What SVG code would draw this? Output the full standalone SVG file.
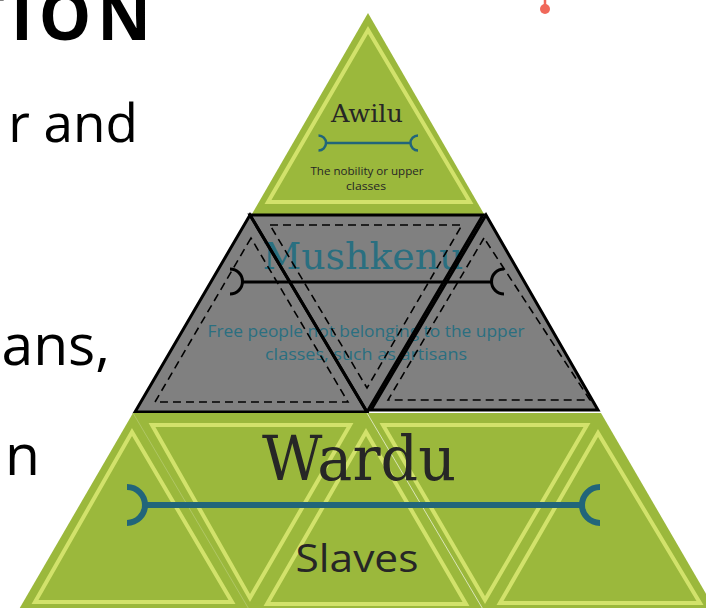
<svg xmlns="http://www.w3.org/2000/svg" width="706" height="608" viewBox="0 0 706 608">
<defs>
<style>
.bg{fill:#ffffff}
.side{font-family:"Open Sans","Noto Sans",sans-serif;fill:#000000}
.green{fill:#9bb83c}
.gin{fill:none;stroke:#d2e26b;stroke-width:4;stroke-linejoin:miter}
.gray{fill:#808080}
.gout{fill:none;stroke:#000000;stroke-width:3;stroke-linejoin:miter}
.dash{fill:none;stroke:#000000;stroke-width:1.6;stroke-dasharray:8 5}
.slab{font-family:"DejaVu Serif","Liberation Serif",serif;text-anchor:middle}
.sans{font-family:"Open Sans","Noto Sans",sans-serif;text-anchor:middle}
.dark{fill:#262626}
.teal{fill:#2a6f80}
.tline{fill:none;stroke:#21657a}
.bline{fill:none;stroke:#000000}
.seam{stroke:#ffffff;fill:none}
</style>
</defs>
<rect class="bg" x="0" y="0" width="706" height="608"/>

<g id="side-text">
<text class="side" x="157" y="40" font-size="66" font-weight="bold" text-anchor="end" letter-spacing="6">TION</text>
<text class="side" x="138" y="142" font-size="53" text-anchor="end">r and</text>
<text class="side" x="110" y="365" font-size="57" text-anchor="end">ans,</text>
<text class="side" x="40" y="475" font-size="57" text-anchor="end">n</text>
</g>

<g id="marker-dot">
<line x1="545" y1="0" x2="545" y2="8" stroke="#f0685a" stroke-width="2.5"/>
<circle cx="545" cy="9" r="5" fill="#f0685a"/>
</g>

<g id="awilu">
<path class="green" d="M368,13 L252,214 L484,214 Z"/>
<path class="gin" d="M368,30 L268,202 L470,202 Z"/>
<text class="slab dark" x="367" y="122" font-size="25" textLength="72" lengthAdjust="spacingAndGlyphs">Awilu</text>
<g class="tline" stroke-width="2.5">
<line x1="325" y1="143" x2="411" y2="143"/>
<path d="M318.5,135.5 A7.5,7.5 0 0 1 318.5,150.5"/>
<path d="M418,135.5 A7.5,7.5 0 0 0 418,150.5"/>
</g>
<text class="sans dark" x="367" y="175" font-size="11" textLength="113" lengthAdjust="spacingAndGlyphs">The nobility or upper</text>
<text class="sans dark" x="366" y="190" font-size="11" textLength="40" lengthAdjust="spacingAndGlyphs">classes</text>
</g>

<g id="mushkenu">
<path class="gray" d="M250,215 L135,412 L367,412 Z"/>
<path class="gray" d="M250,215 L483,215 L367,412 Z"/>
<path class="gray" d="M486,215 L371,410 L598,410 Z"/>
<text class="slab teal" x="363" y="269" font-size="38" textLength="201" lengthAdjust="spacingAndGlyphs">Mushkenu</text>
<text class="sans teal" x="366" y="337" font-size="17" textLength="317" lengthAdjust="spacingAndGlyphs">Free people not belonging to the upper</text>
<text class="sans teal" x="366" y="360" font-size="17" textLength="202" lengthAdjust="spacingAndGlyphs">classes, such as artisans</text>
<path class="gout" d="M250,215 L135,412 L367,412 Z"/>
<path class="gout" d="M250,215 L483,215 L367,412 Z"/>
<path class="gout" d="M486,215 L371,410 L598,410 Z"/>
<path class="dash" d="M251,238 L155,402 L348,402 Z"/>
<path class="dash" d="M270,225 L462,225 L367,388 Z"/>
<path class="dash" d="M484,238 L388,400 L590,400 Z"/>
<g class="bline" stroke-width="3">
<line x1="242" y1="282" x2="492" y2="282"/>
<path d="M230,269 A12.5,12.5 0 0 1 230,294"/>
<path d="M504,269 A12.5,12.5 0 0 0 504,294"/>
</g>
</g>

<g id="wardu">
<path class="green" d="M133,413 L601,413 L716,611 L18,611 Z"/>
<line class="seam" x1="133" y1="413" x2="250" y2="611" stroke-width="0.6" stroke-opacity="0.35"/>
<line class="seam" x1="367" y1="413" x2="484" y2="611" stroke-width="0.8" stroke-opacity="0.8"/>
<path class="gin" d="M132,432 L35,602 L232,602 Z"/>
<path class="gin" d="M152,425 L350,425 L250,598 Z"/>
<path class="gin" d="M366,432 L267,604 L466,604 Z"/>
<path class="gin" d="M383,425 L587,425 L485,600 Z"/>
<path class="gin" d="M598,433 L500,603 L700,603 Z"/>
<g class="tline" stroke-width="6">
<line x1="145" y1="505" x2="582" y2="505"/>
<path d="M127,487 A18,18 0 0 1 127,523"/>
<path d="M600,487 A18,18 0 0 0 600,523"/>
</g>
<text class="slab dark" x="359" y="480" font-size="62" textLength="194" lengthAdjust="spacingAndGlyphs">Wardu</text>
<text class="sans dark" x="357" y="572" font-size="38" textLength="123" lengthAdjust="spacingAndGlyphs">Slaves</text>
</g>
</svg>
